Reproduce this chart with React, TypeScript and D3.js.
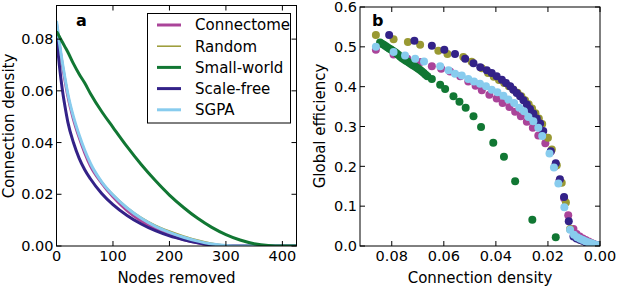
import React from "react";
import * as d3 from "d3";

// ---------- Panel a data ----------
const nodesRemoved = [0, 5, 10, 15, 20, 30, 40, 50, 60, 80, 100, 125, 150, 175, 200, 225, 250, 275, 300, 325, 350, 375, 400, 425];
const densConnectome = [0.086, 0.078, 0.0705, 0.064, 0.058, 0.049, 0.042, 0.036, 0.031, 0.0243, 0.019, 0.0137, 0.0097, 0.0066, 0.0043, 0.0025, 0.0012, 0.0003, 0, 0, 0, 0, 0, 0];
const densRandom = [0.087, 0.079, 0.0715, 0.065, 0.059, 0.050, 0.043, 0.037, 0.032, 0.0250, 0.0200, 0.0150, 0.0111, 0.0081, 0.0058, 0.0039, 0.0023, 0.0011, 0.0003, 0, 0, 0, 0, 0];
const densSmallWorld = [0.083, 0.081, 0.079, 0.077, 0.075, 0.0705, 0.0665, 0.063, 0.059, 0.052, 0.0459, 0.0384, 0.0315, 0.0253, 0.0197, 0.0149, 0.0107, 0.0072, 0.0044, 0.0023, 0.0009, 0.0002, 0, 0];
const densScaleFree = [0.081, 0.070, 0.061, 0.054, 0.048, 0.040, 0.034, 0.0295, 0.026, 0.0203, 0.0160, 0.0118, 0.0085, 0.0059, 0.0039, 0.0024, 0.0012, 0.0004, 0, 0, 0, 0, 0, 0];
const densSGPA = [0.087, 0.079, 0.0715, 0.065, 0.059, 0.050, 0.043, 0.037, 0.032, 0.0248, 0.0197, 0.0147, 0.0107, 0.0076, 0.0053, 0.0034, 0.0019, 0.0008, 0.0002, 0, 0, 0, 0, 0];

// ---------- Panel b data ----------
const connectomeD = [0.0861, 0.0793, 0.0740, 0.0690, 0.0646, 0.0610, 0.0576, 0.0537, 0.0506, 0.0478, 0.0454, 0.0425, 0.0397, 0.0374, 0.0348, 0.0326, 0.0304, 0.0281, 0.0258, 0.0237, 0.0210, 0.0189, 0.0173, 0.0156, 0.0138, 0.0122, 0.0102, 0.0090, 0.0078, 0.0066, 0.0055, 0.0044, 0.0034, 0.0025, 0.0017, 0.0010, 0.0004];
const connectomeE = [0.4925, 0.481, 0.470, 0.462, 0.451, 0.445, 0.438, 0.426, 0.413, 0.402, 0.391, 0.380, 0.370, 0.359, 0.349, 0.337, 0.326, 0.312, 0.297, 0.2775, 0.258, 0.237, 0.200, 0.163, 0.120, 0.0775, 0.0425, 0.030, 0.024, 0.019, 0.015, 0.011, 0.008, 0.005, 0.003, 0.0015, 0.0005];

const randomD = [0.0861, 0.0793, 0.0738, 0.0691, 0.0621, 0.0586, 0.0525, 0.0493, 0.0454, 0.0430, 0.0408, 0.0388, 0.0368, 0.0350, 0.0333, 0.0317, 0.0302, 0.0288, 0.0274, 0.0261, 0.0248, 0.0235, 0.0222, 0.0200, 0.0185, 0.0166, 0.0147, 0.0131, 0.0115, 0.0100, 0.0088, 0.0076, 0.0065, 0.0054, 0.0044, 0.0035, 0.0026, 0.0018, 0.0011, 0.0005];
const randomE = [0.530, 0.519, 0.512, 0.505, 0.490, 0.482, 0.4745, 0.4625, 0.446, 0.434, 0.425, 0.417, 0.409, 0.401, 0.393, 0.385, 0.376, 0.366, 0.356, 0.345, 0.333, 0.320, 0.306, 0.272, 0.2425, 0.203, 0.159, 0.109, 0.0425, 0.025, 0.020, 0.016, 0.013, 0.010, 0.008, 0.006, 0.004, 0.0025, 0.0015, 0.0005];

const smallWorldD = [0.0845, 0.0838, 0.0831, 0.0824, 0.0817, 0.0810, 0.0803, 0.0796, 0.0789, 0.0782, 0.0775, 0.0768, 0.0761, 0.0754, 0.0747, 0.0740, 0.0733, 0.0726, 0.0719, 0.0712, 0.0705, 0.0698, 0.0691, 0.0684, 0.0677, 0.0670, 0.0663, 0.0646, 0.0614, 0.0595, 0.0563, 0.0540, 0.0516, 0.0486, 0.0457, 0.0410, 0.0369, 0.0326, 0.0260, 0.0170];
const smallWorldE = [0.511, 0.508, 0.505, 0.502, 0.499, 0.496, 0.493, 0.490, 0.487, 0.484, 0.480, 0.476, 0.472, 0.469, 0.466, 0.463, 0.460, 0.457, 0.454, 0.451, 0.448, 0.445, 0.442, 0.438, 0.434, 0.430, 0.426, 0.419, 0.405, 0.394, 0.376, 0.362, 0.347, 0.326, 0.299, 0.259, 0.224, 0.1625, 0.066, 0.022];

const scaleFreeD = [0.0810, 0.0713, 0.0646, 0.0598, 0.0557, 0.0518, 0.0486, 0.0460, 0.0435, 0.0416, 0.0397, 0.0377, 0.0361, 0.0345, 0.0333, 0.0320, 0.0307, 0.0294, 0.0281, 0.0269, 0.0256, 0.0243, 0.0230, 0.0218, 0.0189, 0.0170, 0.0154, 0.0138, 0.0120, 0.0102, 0.0090, 0.0078, 0.0067, 0.0056, 0.0046, 0.0037, 0.0028, 0.0020, 0.0013, 0.0007, 0.0002];
const scaleFreeE = [0.530, 0.515, 0.503, 0.4925, 0.482, 0.470, 0.459, 0.449, 0.441, 0.434, 0.426, 0.4175, 0.409, 0.401, 0.3925, 0.384, 0.376, 0.366, 0.355, 0.344, 0.3325, 0.320, 0.3075, 0.289, 0.238, 0.2075, 0.1675, 0.123, 0.062, 0.024, 0.019, 0.016, 0.013, 0.010, 0.008, 0.006, 0.0045, 0.003, 0.002, 0.001, 0.0003];

const sgpaD = [0.0861, 0.0793, 0.0749, 0.0710, 0.0676, 0.0614, 0.0582, 0.0557, 0.0531, 0.0506, 0.0484, 0.0461, 0.0438, 0.0416, 0.0394, 0.0371, 0.0352, 0.0330, 0.0310, 0.0292, 0.0275, 0.0256, 0.0237, 0.0222, 0.0194, 0.0177, 0.0160, 0.0137, 0.0115, 0.0100, 0.0088, 0.0077, 0.0066, 0.0056, 0.0046, 0.0037, 0.0029, 0.0021, 0.0014, 0.0008, 0.0003];
const sgpaE = [0.500, 0.487, 0.478, 0.470, 0.463, 0.451, 0.441, 0.4325, 0.428, 0.419, 0.413, 0.4075, 0.401, 0.3925, 0.386, 0.3775, 0.3675, 0.359, 0.347, 0.338, 0.324, 0.313, 0.297, 0.276, 0.232, 0.197, 0.157, 0.097, 0.041, 0.028, 0.022, 0.018, 0.015, 0.012, 0.0095, 0.0075, 0.0055, 0.004, 0.0025, 0.0012, 0.0004];

// ---------- labels / ticks ----------
const seriesNames = ["Connectome", "Random", "Small-world", "Scale-free", "SGPA"];
const seriesColors = ["#AA4499", "#999933", "#117733", "#332288", "#88CCEE"];
const lineWidths = [3, 1.5, 3, 3, 3];
const aXTicks = [0, 100, 200, 300, 400];
const aYTicks = [0, 0.02, 0.04, 0.06, 0.08];
const bXTicks = [0.08, 0.06, 0.04, 0.02, 0.0];
const bYTicks = [0, 0.1, 0.2, 0.3, 0.4, 0.5, 0.6];

const FONT = "DejaVu Sans, Verdana, sans-serif";
const FS = 14.5;

function Frame({ x, y, xTicks, yTicks, xFmt, yFmt }: any) {
  const [x0, x1] = x.range();
  const [y0, y1] = y.range(); // y0 bottom, y1 top
  const tl = 5;
  return (
    <g>
      {xTicks.map((t: number, i: number) => (
        <g key={"x" + i}>
          <line x1={x(t)} x2={x(t)} y1={y0} y2={y0 - tl} stroke="#000" strokeWidth={1} />
          <line x1={x(t)} x2={x(t)} y1={y1} y2={y1 + tl} stroke="#000" strokeWidth={1} />
          <text x={x(t)} y={y0 + 15} textAnchor="middle" fontFamily={FONT} fontSize={FS}>{xFmt(t)}</text>
        </g>
      ))}
      {yTicks.map((t: number, i: number) => (
        <g key={"y" + i}>
          <line x1={x0} x2={x0 + tl} y1={y(t)} y2={y(t)} stroke="#000" strokeWidth={1} />
          <line x1={x1} x2={x1 - tl} y1={y(t)} y2={y(t)} stroke="#000" strokeWidth={1} />
          <text x={x0 - 3} y={y(t)} dy="0.36em" textAnchor="end" fontFamily={FONT} fontSize={FS}>{yFmt(t)}</text>
        </g>
      ))}
      <rect x={Math.min(x0, x1)} y={y1} width={Math.abs(x1 - x0)} height={y0 - y1} fill="none" stroke="#000" strokeWidth={1} />
    </g>
  );
}

export default function App() {
  // Panel a
  const ax = d3.scaleLinear().domain([0, 425]).range([56.5, 296.5]);
  const ay = d3.scaleLinear().domain([0, 0.093]).range([246, 5.5]);
  const aSeries = [densConnectome, densRandom, densSmallWorld, densScaleFree, densSGPA];
  const line = d3
    .line<number>()
    .x((_, i) => ax(nodesRemoved[i]))
    .y((v) => ay(v))
    .curve(d3.curveMonotoneX);
  const aOrder = [1, 0, 3, 4, 2];

  // Panel b
  const bx = d3.scaleLinear().domain([0.0922, 0]).range([360, 600]);
  const by = d3.scaleLinear().domain([0, 0.6]).range([246, 7]);
  const bSeries = [
    [connectomeD, connectomeE],
    [randomD, randomE],
    [smallWorldD, smallWorldE],
    [scaleFreeD, scaleFreeE],
    [sgpaD, sgpaE],
  ];

  const legendX = 147.5, legendY = 13.5, legendW = 143, legendH = 109.5;
  const rowY = (i: number) => legendY + 11.5 + i * 21.2;

  return (
    <svg width={617} height={287} style={{ position: "absolute", left: 0, top: 0, background: "#fff" }}>
      <rect width={617} height={287} fill="#fff" />
      <defs>
        <clipPath id="clipA">
          <rect x={56.5} y={5.5} width={240} height={240.5} />
        </clipPath>
        <clipPath id="clipB">
          <rect x={360} y={7} width={240} height={239} />
        </clipPath>
      </defs>
      {/* Panel a */}
      <g clipPath="url(#clipA)">
        {aOrder.map((k) => (
          <path key={k} d={line(aSeries[k]) || ""} fill="none" stroke={seriesColors[k]} strokeWidth={lineWidths[k]} />
        ))}
      </g>
      <Frame x={ax} y={ay} xTicks={aXTicks} yTicks={aYTicks} xFmt={(t: number) => String(t)} yFmt={d3.format(".2f")} />
      <text x={76} y={26} fontFamily={FONT} fontSize={16} fontWeight="bold">a</text>
      <rect x={legendX} y={legendY} width={legendW} height={legendH} fill="#fff" stroke="#000" strokeWidth={1} />
      {seriesNames.map((n, i) => (
        <g key={n}>
          <line x1={157} x2={181} y1={rowY(i)} y2={rowY(i)} stroke={seriesColors[i]} strokeWidth={lineWidths[i]} />
          <text x={195} y={rowY(i)} dy="0.36em" fontFamily={FONT} fontSize={15}>{n}</text>
        </g>
      ))}
      <text x={176.5} y={283} textAnchor="middle" fontFamily={FONT} fontSize={FS + 0.5}>Nodes removed</text>
      <text transform={`translate(14,126) rotate(-90)`} textAnchor="middle" fontFamily={FONT} fontSize={FS + 0.5}>Connection density</text>

      {/* Panel b */}
      <g clipPath="url(#clipB)">
        {bSeries.map(([ds, es], k) =>
          ds.map((d, i) => (
            <circle key={k + "-" + i} cx={bx(d)} cy={by(es[i])} r={4} fill={seriesColors[k]} />
          ))
        )}
      </g>
      <Frame x={bx} y={by} xTicks={bXTicks} yTicks={bYTicks} xFmt={d3.format(".2f")} yFmt={d3.format(".1f")} />
      <text x={372} y={26} fontFamily={FONT} fontSize={16} fontWeight="bold">b</text>
      <text x={480} y={283} textAnchor="middle" fontFamily={FONT} fontSize={FS + 0.5}>Connection density</text>
      <text transform={`translate(325,126) rotate(-90)`} textAnchor="middle" fontFamily={FONT} fontSize={FS + 0.5}>Global efficiency</text>
    </svg>
  );
}
